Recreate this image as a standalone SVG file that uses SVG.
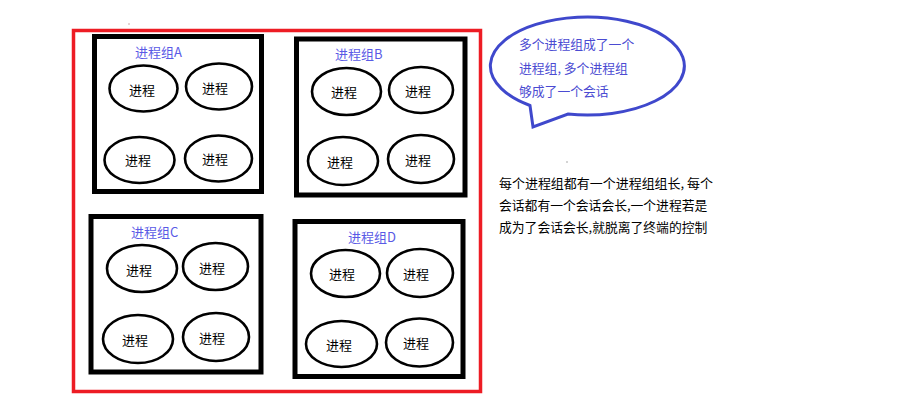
<svg xmlns="http://www.w3.org/2000/svg" width="901" height="419" viewBox="0 0 901 419">
<style>
.grp{fill:#fff;stroke:#000;stroke-width:5}
.proc{fill:#fff;stroke:#000;stroke-width:2.6}
.t{font-family:"Noto Sans CJK SC","Noto Sans",sans-serif;font-size:13px;fill:#000;text-anchor:middle;dominant-baseline:central}
.lbl{font-family:"Noto Sans CJK SC","Noto Sans",sans-serif;font-size:13px;fill:#5a5ae6;dominant-baseline:central}
.note{font-family:"Noto Sans CJK SC","Noto Sans",sans-serif;font-size:12.8px;dominant-baseline:central}
</style>
<rect width="901" height="419" fill="#fff"/>
<rect id="session" x="73.5" y="30.5" width="407" height="361" fill="none" stroke="#ed1c24" stroke-width="3.5"/>
<g id="groupA">
<rect class="grp" x="94.5" y="36.5" width="167" height="155"/>
<text class="lbl" x="135" y="51">进程组A</text>
<ellipse class="proc" cx="143.5" cy="88.5" rx="34" ry="23"/><text class="t" x="142" y="89">进程</text>
<ellipse class="proc" cx="219" cy="86.5" rx="33" ry="23"/><text class="t" x="215" y="87">进程</text>
<ellipse class="proc" cx="139.5" cy="160" rx="35" ry="23"/><text class="t" x="138" y="159">进程</text>
<ellipse class="proc" cx="218.5" cy="158.5" rx="33.5" ry="23"/><text class="t" x="215" y="158">进程</text>
</g>
<g id="groupB">
<rect class="grp" x="296.5" y="39" width="168.5" height="156"/>
<text class="lbl" x="335" y="53">进程组B</text>
<ellipse class="proc" cx="346.5" cy="91.5" rx="34.5" ry="23.5"/><text class="t" x="344" y="91">进程</text>
<ellipse class="proc" cx="421" cy="90" rx="32" ry="23"/><text class="t" x="418" y="90">进程</text>
<ellipse class="proc" cx="343" cy="161" rx="35" ry="24"/><text class="t" x="340" y="161">进程</text>
<ellipse class="proc" cx="421" cy="159" rx="33" ry="24"/><text class="t" x="418" y="159">进程</text>
</g>
<g id="groupC">
<rect class="grp" x="91" y="216.5" width="170" height="155.5"/>
<text class="lbl" x="131" y="231">进程组C</text>
<ellipse class="proc" cx="142" cy="268.5" rx="35" ry="23.5"/><text class="t" x="139" y="269">进程</text>
<ellipse class="proc" cx="215.5" cy="266.5" rx="32.5" ry="23.5"/><text class="t" x="212" y="267">进程</text>
<ellipse class="proc" cx="138" cy="339" rx="35" ry="24"/><text class="t" x="135" y="339">进程</text>
<ellipse class="proc" cx="216" cy="337" rx="33" ry="24"/><text class="t" x="212" y="337">进程</text>
</g>
<g id="groupD">
<rect class="grp" x="295" y="221.5" width="168" height="155"/>
<text class="lbl" x="348" y="236">进程组D</text>
<ellipse class="proc" cx="345.5" cy="273.5" rx="34.5" ry="23.5"/><text class="t" x="342" y="273">进程</text>
<ellipse class="proc" cx="420" cy="273" rx="33" ry="24"/><text class="t" x="416" y="273">进程</text>
<ellipse class="proc" cx="341.5" cy="344" rx="35.5" ry="23"/><text class="t" x="339" y="344">进程</text>
<ellipse class="proc" cx="419.5" cy="342.5" rx="33.5" ry="24"/><text class="t" x="416" y="342">进程</text>
</g>
<g id="bubble">
<path d="M530,105.5 A97,49 0 1 1 568,114 L533,127 Z" fill="#fff" stroke="#3f48cc" stroke-width="3" stroke-linejoin="miter"/>
<text class="note" fill="#4b4bd2" x="519" y="43">多个进程组成了一个</text>
<text class="note" fill="#4b4bd2" x="519" y="67">进程组, 多个进程组</text>
<text class="note" fill="#4b4bd2" x="519" y="90">够成了一个会话</text>
</g>
<g id="description">
<text class="note" fill="#000" x="499" y="182" textLength="214" lengthAdjust="spacingAndGlyphs">每个进程组都有一个进程组组长, 每个</text>
<text class="note" fill="#000" x="499" y="204">会话都有一个会话会长,一个进程若是</text>
<text class="note" fill="#000" x="499" y="226">成为了会话会长,就脱离了终端的控制</text>
</g>
<circle cx="567" cy="162" r="0.7" fill="#888"/>
<circle cx="129" cy="24" r="0.7" fill="#b88"/>
</svg>
